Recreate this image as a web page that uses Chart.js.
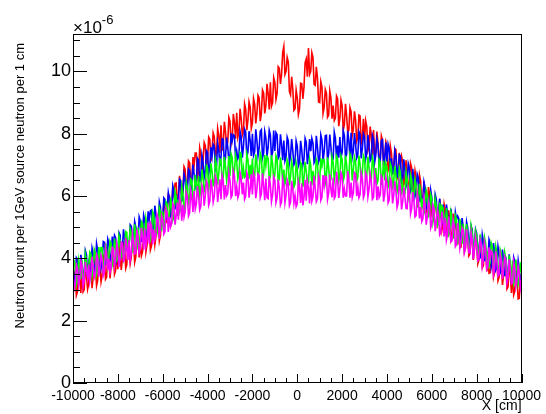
<!DOCTYPE html>
<html>
<head>
<meta charset="utf-8">
<script src="https://cdn.jsdelivr.net/npm/chart.js@4.4.1/dist/chart.umd.min.js"></script>
<style>
  html, body { margin: 0; padding: 0; background: #fff; }
  #wrap { width: 546px; height: 414px; }
</style>
</head>
<body>
<div id="wrap"><canvas id="chart" width="546" height="414"></canvas></div>
<script>
// histogram bins: 401 bins of 50 cm, from -10000 to 10000 (values in units of 1e-6)
const X_MIN = -10000;
const BIN_WIDTH = 50;
const X_TICKS = [-10000, -8000, -6000, -4000, -2000, 0, 2000, 4000, 6000, 8000, 10000];
const Y_TICKS = [0, 2, 4, 6, 8, 10];
const SERIES_COLORS = ['#ff0000', '#0000ff', '#00ff00', '#ff00ff'];

const RED = [
  2.95,3.57,3.44,2.81,2.93,3.65,3.37,2.89,3.51,2.93,3.00,3.77,3.44,3.01,3.18,3.85,3.77,3.04,3.41,3.93,
  3.75,3.12,3.29,4.01,3.73,3.25,3.47,4.09,4.01,3.33,3.40,4.17,3.94,3.36,3.73,4.25,4.12,3.49,3.61,4.33,
  3.65,4.38,4.20,3.63,3.95,4.48,4.40,3.68,3.80,4.58,4.30,3.83,4.05,4.68,4.55,3.88,4.05,4.78,4.55,4.03,
  4.55,4.08,4.21,4.94,4.82,4.20,4.43,5.06,4.99,4.27,4.40,5.18,4.86,4.44,4.72,5.30,5.23,4.56,4.74,5.47,
  5.05,5.81,5.72,5.13,5.44,6.05,6.01,5.32,5.58,6.29,6.05,6.41,6.42,5.73,5.99,6.65,6.36,5.97,6.13,6.94,
  6.85,6.19,6.44,7.13,7.07,6.36,6.51,7.25,6.99,7.38,7.38,6.62,6.81,7.55,7.35,6.79,7.13,7.72,7.62,6.96,
  7.15,7.89,7.82,7.11,7.44,8.03,7.91,7.25,7.38,8.17,7.95,7.39,8.27,7.46,7.69,8.38,8.06,7.60,7.73,8.52,
  8.40,7.68,7.86,8.63,8.36,7.84,8.67,7.89,8.07,8.80,8.48,7.95,8.08,8.96,8.79,8.11,8.44,9.02,8.85,8.17,
  8.35,9.13,8.95,8.33,8.65,9.23,9.15,8.40,8.65,9.40,9.30,8.65,8.90,9.60,9.30,8.78,9.65,8.88,9.00,9.80,
  9.65,9.10,9.30,10.15,10.10,9.60,9.90,10.60,10.80,9.90,10.00,10.45,10.30,9.35,9.25,9.83,9.45,8.75,8.80,9.40,
  9.15,8.62,8.80,9.62,9.60,9.12,9.50,10.28,10.40,9.83,10.75,9.90,10.00,10.60,10.45,9.58,9.55,10.15,9.80,9.02,
  9.00,9.67,9.50,8.65,8.85,9.42,9.30,8.53,8.60,9.37,9.15,8.48,8.90,8.42,8.50,9.21,9.12,8.24,8.51,9.08,
  8.90,8.12,8.29,8.96,8.58,8.05,8.12,8.84,8.71,7.93,8.15,8.72,8.44,7.76,7.88,8.60,8.57,7.69,7.86,8.48,
  7.80,8.42,8.23,7.45,7.56,8.23,7.94,7.31,8.12,7.29,7.40,8.07,7.68,7.10,7.21,7.93,7.79,6.96,7.27,7.74,
  7.60,6.82,6.94,7.60,7.37,6.69,6.96,7.52,7.49,6.56,6.68,7.39,7.01,7.28,7.10,6.36,6.43,7.15,6.77,6.23,
  6.35,7.05,6.91,6.06,6.36,6.81,6.57,5.87,5.92,6.67,6.48,5.68,5.88,6.48,6.09,5.49,5.59,6.29,6.05,5.30,
  5.90,5.21,5.28,6.04,5.65,5.06,5.18,5.89,5.65,4.91,5.13,5.74,5.55,4.76,4.78,5.54,5.15,4.61,4.78,5.44,
  4.65,5.37,5.04,4.45,5.07,4.34,4.36,5.17,4.79,4.21,4.33,5.04,4.76,4.08,4.15,4.91,4.58,3.95,4.27,4.78,
  4.50,3.82,3.94,4.66,4.28,3.70,3.77,4.54,4.31,3.58,3.90,3.52,3.54,4.36,4.08,3.40,3.57,4.24,3.86,3.28,
  3.40,4.12,3.84,3.15,3.47,3.99,3.76,3.02,3.09,3.86,3.48,2.89,3.51,2.83,2.95,3.66,3.33,2.70,2.72,3.48,
  2.95
];

const BLUE = [
  3.80,3.17,3.40,4.02,3.96,3.31,3.59,4.11,3.83,3.35,3.48,4.25,4.12,3.44,3.82,3.54,3.66,4.33,4.16,3.58,
  3.70,4.47,4.26,3.66,4.13,3.70,3.92,4.54,4.51,3.78,4.08,4.62,4.49,3.91,3.98,4.70,4.42,4.74,4.66,3.98,
  4.20,4.83,4.75,4.08,4.22,4.93,4.67,4.23,4.65,4.23,4.35,5.08,5.03,4.33,4.65,5.18,5.00,4.43,4.60,5.33,
  5.20,4.53,4.81,5.39,5.22,4.65,4.78,5.51,5.24,5.52,5.55,4.83,5.04,5.69,5.37,4.95,5.10,5.81,5.64,5.07,
  5.25,5.94,5.89,5.23,5.57,6.11,5.91,5.40,5.54,6.33,6.18,5.57,6.06,5.70,5.90,6.54,6.50,5.82,6.17,6.71,
  6.55,5.99,6.13,6.86,6.80,6.14,6.48,7.01,6.70,6.29,6.45,7.21,7.15,6.44,6.68,7.31,7.07,6.59,6.78,7.46,
  7.40,6.72,6.90,7.57,7.27,7.66,7.59,6.86,6.98,7.70,7.48,6.95,7.27,7.84,7.82,7.04,7.24,7.88,7.56,7.13,
  7.25,8.01,7.77,7.97,7.93,7.19,7.45,7.20,7.31,8.07,7.88,7.23,7.59,8.15,8.06,7.26,7.42,8.08,7.79,7.29,
  8.00,7.30,7.42,8.14,7.79,7.29,7.54,8.08,8.13,7.23,7.38,8.07,7.87,7.27,7.57,8.11,7.96,7.26,7.41,8.10,
  7.45,8.04,7.97,7.21,7.29,7.98,7.66,7.15,7.78,7.12,7.25,7.89,7.77,7.06,7.29,7.83,7.46,7.00,7.08,7.77,
  7.60,6.96,7.07,7.77,7.48,6.99,7.19,7.85,7.73,7.02,7.33,7.83,7.44,7.85,7.70,7.06,7.13,7.93,7.57,7.09,
  7.20,7.96,7.80,7.12,7.43,7.94,7.95,7.15,7.36,7.97,7.58,7.13,7.19,8.05,7.85,7.21,7.62,7.23,7.89,7.24,
  7.40,8.10,7.94,7.24,7.34,8.09,7.79,7.23,8.03,7.23,7.43,8.02,7.67,7.22,7.32,8.06,7.96,7.21,7.51,8.00,
  7.90,7.19,7.37,7.96,7.64,7.13,7.21,7.95,7.83,7.07,7.30,7.84,7.62,7.01,7.11,7.78,7.81,6.95,7.23,7.72,
  7.10,7.67,7.53,6.80,7.21,6.73,6.79,7.46,7.27,6.59,6.85,7.32,7.28,6.45,6.56,7.18,6.84,6.31,6.47,7.04,
  6.90,6.16,6.27,6.87,6.53,5.99,6.15,6.70,6.58,5.82,6.13,5.73,5.79,6.45,6.26,5.56,6.02,5.48,5.64,6.19,
  5.95,5.32,5.39,6.05,5.90,5.19,5.46,5.92,5.54,5.06,5.73,4.99,5.11,5.73,5.45,4.86,5.03,5.60,5.27,4.73,
  4.85,5.47,5.24,5.36,5.28,4.55,4.72,5.29,4.96,4.43,4.50,5.17,4.99,4.31,4.63,5.05,4.92,4.19,4.41,4.93,
  4.80,4.07,4.35,4.02,4.09,4.76,4.54,3.91,4.33,3.85,3.98,4.60,4.47,3.74,3.97,4.49,4.16,3.63,3.73,4.38,
  4.15,3.53,3.60,4.28,3.95,3.43,4.05,3.38,3.55,4.13,3.75,3.28,3.37,4.03,3.90,3.18,3.45,3.93,3.65,3.13,
  3.50
];

const GREEN = [
  3.35,3.92,3.84,3.16,3.33,3.95,3.72,3.34,3.94,3.28,3.40,4.12,3.89,3.41,3.73,4.20,4.14,3.44,3.66,4.28,
  4.15,3.52,3.74,4.36,4.03,4.35,4.35,3.64,3.78,4.48,4.22,3.77,4.04,4.56,4.48,3.80,3.97,4.64,4.34,3.93,
  4.00,4.72,4.57,4.02,4.44,4.01,4.24,4.86,4.83,4.10,4.41,4.95,4.82,4.24,4.32,5.09,4.76,4.28,4.99,4.38,
  4.65,5.18,5.11,4.43,4.58,5.29,5.07,4.59,5.02,4.60,4.73,5.50,5.41,4.71,5.09,4.81,4.99,5.62,5.50,4.87,
  5.50,4.94,5.12,5.81,5.74,5.13,5.41,5.95,5.63,5.22,5.33,6.14,5.97,5.36,5.89,5.48,5.58,6.30,6.08,5.57,
  5.72,6.43,6.26,5.69,6.02,6.55,6.50,5.81,5.94,6.67,6.38,5.98,6.64,5.99,6.22,6.85,6.58,6.16,6.29,6.97,
  6.90,6.22,6.44,7.05,6.79,6.34,6.39,7.17,6.99,6.36,6.73,7.19,7.16,6.43,6.60,7.26,6.93,6.50,6.77,7.28,
  6.65,7.35,7.23,6.55,6.85,7.30,7.10,6.55,6.70,7.40,7.35,6.55,6.90,6.60,6.65,7.35,7.17,6.55,7.00,6.60,
  7.20,6.55,6.65,7.34,7.04,6.59,6.79,7.38,7.25,6.53,6.70,7.32,6.97,7.27,7.22,6.51,6.63,7.31,7.03,6.50,
  6.70,7.29,7.18,6.46,6.55,7.24,6.95,6.46,6.85,6.39,6.53,7.16,7.05,6.34,6.63,7.11,6.90,6.29,6.38,7.06,
  6.85,6.26,6.39,7.07,7.01,6.29,6.60,7.10,6.81,6.37,6.43,7.18,6.99,6.35,6.81,6.41,6.55,7.18,7.09,6.39,
  6.50,7.21,6.96,7.17,7.17,6.43,6.63,7.24,6.89,6.45,6.53,7.26,7.08,6.52,6.77,7.28,7.18,6.49,6.64,7.30,
  7.18,6.50,6.65,7.30,7.00,6.50,6.60,7.35,7.25,6.50,6.85,7.25,7.10,6.50,6.60,7.30,7.02,6.55,6.75,7.30,
  7.20,6.49,6.68,7.27,6.91,6.50,6.52,7.23,7.07,6.41,6.90,6.39,6.50,7.17,7.09,6.35,6.64,7.13,6.50,7.06,
  6.92,6.28,6.36,7.04,6.92,6.20,6.48,6.96,6.66,6.12,6.25,6.88,6.74,6.04,6.37,6.05,6.08,6.76,6.54,5.92,
  6.10,6.67,6.53,5.80,6.06,6.53,6.34,5.66,5.72,6.39,6.10,5.57,5.93,5.45,5.56,6.18,6.04,5.31,5.55,6.04,
  5.90,5.17,5.39,5.91,5.68,5.05,5.14,5.79,5.46,5.68,5.62,4.87,5.04,5.61,5.23,4.75,4.82,5.49,5.31,4.63,
  4.90,5.37,5.25,4.52,4.64,5.26,4.99,4.46,5.11,4.35,4.53,5.10,4.72,4.24,4.32,5.04,4.81,4.13,4.46,4.88,
  4.73,4.02,4.20,4.77,4.44,3.91,3.99,4.66,4.48,3.85,4.23,3.75,3.87,4.49,4.37,3.64,3.91,4.38,4.16,3.53,
  3.70,4.28,4.16,3.43,3.71,4.19,3.97,3.34,3.44,4.10,3.80,3.30,3.93,3.21,3.39,3.96,3.59,3.17,3.35,3.87,
  3.55
];

const MAGENTA = [
  3.45,3.02,3.19,3.80,3.67,3.14,3.36,3.92,3.79,3.11,3.28,3.89,3.61,3.38,3.80,3.26,3.48,4.05,3.77,3.38,
  3.50,4.12,4.02,3.41,3.73,4.10,3.97,3.44,3.56,4.33,4.12,3.62,3.99,3.56,3.73,4.35,4.32,3.74,3.96,4.48,
  4.30,3.72,4.00,4.52,4.49,3.91,3.96,4.66,4.36,3.95,4.58,3.95,4.17,4.79,4.54,4.14,4.16,4.93,4.69,4.18,
  4.30,4.98,4.71,4.28,4.96,4.39,4.60,5.14,4.47,5.15,5.05,4.45,4.93,4.61,4.74,5.41,5.27,4.62,4.97,5.37,
  5.25,4.78,4.86,5.59,5.47,4.85,5.33,5.01,5.12,5.77,5.70,5.08,5.36,5.79,5.24,5.95,5.78,5.21,5.72,5.32,
  5.50,6.12,5.99,5.36,5.46,6.15,5.92,5.49,6.16,5.58,5.75,6.32,5.99,5.56,5.68,6.35,6.24,5.69,6.01,6.48,
  6.38,5.71,5.83,6.54,6.25,5.81,6.00,6.64,6.52,5.81,6.15,6.54,5.90,6.66,6.48,5.89,6.35,6.01,6.08,6.74,
  6.50,5.95,6.03,6.80,6.65,6.00,6.30,5.95,6.07,6.75,6.57,6.05,6.43,5.90,6.00,6.75,6.62,5.95,6.23,6.70,
  6.05,6.74,6.59,5.93,6.22,6.71,6.66,5.95,6.07,6.73,6.33,5.87,6.56,5.95,5.92,6.64,6.35,5.82,6.04,6.61,
  6.50,5.79,5.94,6.53,6.25,5.71,5.81,6.55,6.36,5.78,6.03,6.52,6.39,5.70,5.80,6.49,6.23,5.77,6.02,5.66,
  5.75,6.46,6.27,5.78,6.41,5.70,5.96,6.52,5.85,6.49,6.25,5.76,6.47,5.83,5.97,6.65,6.26,5.82,5.91,6.64,
  6.50,5.86,5.96,6.67,6.32,6.63,6.61,5.89,6.09,6.70,6.22,5.96,6.59,5.92,5.99,6.78,6.48,5.94,6.24,6.75,
  6.65,5.95,6.23,6.00,6.00,6.80,6.55,5.95,6.43,5.95,6.10,6.75,6.70,6.00,6.30,5.95,6.05,6.75,6.57,5.95,
  6.07,6.74,6.64,5.98,6.22,6.71,6.46,5.90,5.96,6.73,6.53,5.87,6.31,5.95,6.03,6.64,6.55,5.82,6.07,6.61,
  6.40,5.78,5.87,6.55,6.46,5.76,6.02,6.48,6.16,5.64,5.78,6.46,6.27,5.57,5.81,6.29,5.97,5.60,5.59,6.27,
  6.15,5.43,5.60,6.13,5.85,5.33,5.38,6.08,5.90,5.28,5.65,5.18,5.27,5.93,5.70,5.08,5.35,5.83,5.70,4.98,
  5.10,5.72,5.60,4.87,5.19,5.56,5.39,4.76,4.83,5.50,5.20,4.70,5.30,4.59,4.77,5.34,4.96,4.53,4.56,5.23,
  5.05,4.38,4.45,5.13,4.85,4.33,4.55,4.98,4.90,4.18,4.33,4.93,4.58,4.18,4.17,4.83,4.60,3.98,4.30,4.68,
  4.40,3.92,3.97,4.62,4.49,3.76,3.99,4.51,4.30,3.65,3.73,4.35,4.02,4.24,4.17,3.49,3.66,4.23,3.93,3.43,
  3.50,4.13,3.91,3.34,3.62,4.05,3.93,3.21,3.39,3.97,3.65,3.18,3.21,3.89,3.69,3.10,3.31,3.76,3.54,3.07,
  3.30
];

const FONT = '"Liberation Sans", Arial, Helvetica, sans-serif';

function toPoints(values) {
    return values.map((v, i) => ({ x: X_MIN + i * BIN_WIDTH, y: v }));
}

// ROOT style frame, inward ticks, exponent and axis titles
const rootFrame = {
    id: 'rootFrame',
    afterDraw(chart) {
        const { ctx, chartArea: a, scales } = chart;
        const xs = scales.x, ys = scales.y;
        ctx.save();
        ctx.strokeStyle = '#000';
        ctx.lineWidth = 1;
        ctx.strokeRect(Math.round(a.left) + 0.5, Math.round(a.top) + 0.5,
            Math.round(a.right - a.left) - 1, Math.round(a.bottom - a.top) - 1);

        ctx.beginPath();
        for (let v = -10000; v <= 10000; v += 500) {
            const px = Math.round(xs.getPixelForValue(v)) + 0.5;
            const len = v % 2000 === 0 ? 9 : 5;
            ctx.moveTo(px, a.bottom);
            ctx.lineTo(px, a.bottom - len);
        }
        for (let v = 0; v <= 11; v += 0.5) {
            const py = Math.round(ys.getPixelForValue(v)) + 0.5;
            const len = v % 2 === 0 ? 14 : 7;
            ctx.moveTo(a.left, py);
            ctx.lineTo(a.left + len, py);
        }
        ctx.stroke();

        ctx.fillStyle = '#000';
        ctx.textBaseline = 'alphabetic';
        ctx.textAlign = 'left';
        ctx.font = '17px ' + FONT;
        ctx.fillText('\u00d710', a.left, 33);
        const w = ctx.measureText('\u00d710').width;
        ctx.font = '13px ' + FONT;
        ctx.fillText('-6', a.left + w, 24);

        ctx.font = '14px ' + FONT;
        ctx.textAlign = 'right';
        ctx.textBaseline = 'middle';
        ctx.fillText('X [cm]', a.right, 406);

        ctx.translate(20, 43);
        ctx.rotate(-Math.PI / 2);
        ctx.font = '13px ' + FONT;
        ctx.textAlign = 'right';
        ctx.fillText('Neutron count per 1GeV source neutron per 1 cm', 0, 0);
        ctx.restore();
    }
};

const ctx = document.getElementById('chart').getContext('2d');
const seriesData = [RED, BLUE, GREEN, MAGENTA];
new Chart(ctx, {
    type: 'line',
    data: {
        datasets: seriesData.map((vals, i) => ({
            data: toPoints(vals),
            borderColor: SERIES_COLORS[i],
            borderWidth: 1.6,
            pointRadius: 0,
            tension: 0,
            fill: false,
            order: seriesData.length - i
        }))
    },
    options: {
        responsive: false,
        animation: false,
        layout: { padding: { left: 0, right: 24, top: 34, bottom: 0 } },
        plugins: { legend: { display: false }, tooltip: { enabled: false } },
        scales: {
            x: {
                type: 'linear', min: -10000, max: 10000,
                afterFit: s => { s.height = 31; },
                afterBuildTicks: s => { s.ticks = X_TICKS.map(v => ({ value: v })); },
                grid: { display: false, drawTicks: false },
                border: { display: false },
                ticks: { autoSkip: false, maxRotation: 0, padding: 5, color: '#000',
                    font: { family: FONT, size: 14 }, callback: v => String(v) }
            },
            y: {
                type: 'linear', min: 0, max: 11.2,
                afterFit: s => { s.width = 73; },
                afterBuildTicks: s => { s.ticks = Y_TICKS.map(v => ({ value: v })); },
                grid: { display: false, drawTicks: false },
                border: { display: false },
                ticks: { padding: 2, color: '#000',
                    font: { family: FONT, size: 18 }, callback: v => String(v) }
            }
        }
    },
    plugins: [rootFrame]
});
</script>
</body>
</html>
